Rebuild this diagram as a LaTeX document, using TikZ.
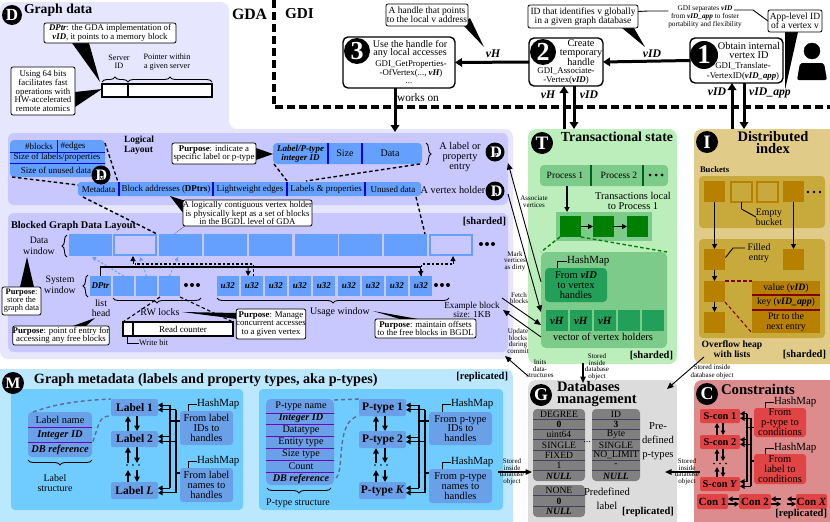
\documentclass[tikz,border=0pt]{standalone}
\usepackage{fontspec}
\setmainfont{Liberation Serif}
\usetikzlibrary{arrows.meta,decorations.pathreplacing,calc}
\newcommand\fz[2]{\fontsize{#1}{#2}\selectfont}
\newcommand\bi[1]{{\bfseries\itshape #1}}
\definecolor{paleL}{HTML}{E6E6FF}\definecolor{lav}{HTML}{C8C8FF}\definecolor{blk}{HTML}{66A0FF}\definecolor{dblue}{HTML}{0000E0}
\definecolor{paleG}{HTML}{BCEEBC}\definecolor{midG}{HTML}{7CCB8A}\definecolor{deepG}{HTML}{008000}\definecolor{hashG}{HTML}{22A05A}\definecolor{lineG}{HTML}{006020}
\definecolor{paleY}{HTML}{E0CC88}\definecolor{midY}{HTML}{C8AA3C}\definecolor{deepY}{HTML}{B88000}\definecolor{dred}{HTML}{800000}
\definecolor{paleB}{HTML}{BBE8FF}\definecolor{midB}{HTML}{70CCFF}\definecolor{boxB}{HTML}{6AA0E8}\definecolor{purp}{HTML}{7000C0}\definecolor{dashB}{HTML}{606A9A}
\definecolor{paleK}{HTML}{DCDCDC}\definecolor{midK}{HTML}{808080}\definecolor{lineK}{HTML}{404060}
\definecolor{paleR}{HTML}{DC8C8C}\definecolor{boxR}{HTML}{E04444}
\tikzset{
 boxn/.style={rectangle,inner sep=0pt,outer sep=0pt,align=center},
 txt/.style={inner sep=0pt,outer sep=0pt,align=center,font=\fz{10}{9.5}},
 small/.style={txt,font=\fz{7}{6.6}},
 tiny/.style={txt,font=\fz{8.2}{8.4}},
 bold/.style={txt,font=\fz{9.5}{10}\bfseries},
 title/.style={txt,font=\fz{14.2}{12}\bfseries},
 tag/.style={txt,anchor=east,font=\fz{10.5}{10}\bfseries},
 callout/.style={fill=white,draw=black,line width=0.8pt,rounded corners=2pt,font=\fz{8.8}{8.6}},
 stepbig/.style={fill=white,draw=black,line width=1.4pt,rounded corners=5pt,font=\fz{9.5}{8.6}},
 big/.style={line width=3pt,-{Triangle[width=8.5pt,length=7pt]}},
 medarr/.style={line width=1pt,-{Triangle[width=5pt,length=5pt]}},
 thinarr/.style={line width=0.9pt,-{Triangle[width=5.5pt,length=6.5pt]}},
 railarr/.style={line width=1.2pt,-{Triangle[width=5pt,length=4.5pt]}},
 varr/.style={line width=1.6pt,-{Triangle[width=5.5pt,length=5.5pt]}},
 dashbig/.style={line width=3.5pt,dash pattern=on 8pt off 4pt},
 dsh/.style={line width=1.4pt,dash pattern=on 3.5pt off 2.5pt},
 brc/.style={decorate,decoration={brace,amplitude=5pt},line width=0.9pt},
 blockb/.style={fill=blk,font=\fz{9}{9}},
 hollow/.style={fill=lav,draw=blk,line width=1.6pt},
}
\newcommand\R[7][]{\pgfmathsetmacro\rcx{(#3+#5)/2}\pgfmathsetmacro\rcy{(#4+#6)/2}\pgfmathsetmacro\rw{#5-#3}\pgfmathsetmacro\rh{#6-#4}\node[boxn,minimum width=\rw pt,minimum height=\rh pt,#1] (#2) at (\rcx,\rcy) {#7};}
\newcommand\T[5][]{\node[txt,#1] (#2) at (#3,#4) {#5};}
\newcommand\cic[6]{\node[circle,fill=black,text=white,inner sep=0pt,outer sep=0pt,minimum size=#4 pt,font=\fz{#6}{#6}\bfseries] (#1) at (#2,#3) {#5};}
\newcommand\cicd[4]{\node[circle,fill=black,text=white,inner sep=0pt,outer sep=0pt,minimum size=19pt,font=\fz{16}{16}\bfseries] (#1) at (#2,#3) {D\kern-8.2pt{\fboxsep=0.2pt\colorbox{white}{\textcolor{black}{\fz{5.5}{5.5}\bfseries #4}}}\kern2pt};}
\newcommand\tdots[3][2]{\fill (#2-6,#3) circle (#1pt) (#2,#3) circle (#1pt) (#2+6,#3) circle (#1pt);}
\newcommand\hmap[5]{\node[txt,anchor=west,font=\fz{10.9}{10}] (#1) at (#4,#5) {HashMap};\draw[line width=0.9pt] ([xshift=#3pt]#2.north) |- (#1.west);}
\newcommand\railset[9]{%
 \foreach \n in {#3,#4,#5}{\draw[railarr] ([yshift=2.3pt]\n.east -| #1) -- ([yshift=2.3pt]\n.east);\draw[railarr] ([yshift=-2.3pt]\n.east -| #2) -- ([yshift=-2.3pt]\n.east);}
 \draw[line width=1.2pt] ([yshift=2.3pt]#3.east -| #1) -- ([yshift=2.3pt]#5.east -| #1);
 \draw[line width=1.2pt] ([yshift=-2.3pt]#3.east -| #2) -- ([yshift=-2.3pt]#5.east -| #2);
 \draw[line width=1.2pt] ([yshift=#8pt]#6.west -| #1) -- ([yshift=#8pt]#6.west);
 \draw[line width=1.2pt] ([yshift=#9pt]#7.west -| #2) -- ([yshift=#9pt]#7.west);}
\newcommand\vpair[5][varr]{\draw[#1] ([xshift=#4pt]#2) -- ([xshift=#4pt]#3);\draw[#1] ([xshift=#5pt]#3) -- ([xshift=#5pt]#2);}
\newcommand\tabl[6]{% name x1 x2 y1 rowh rows(list idx/text)
 \foreach \i/\t in {#6}{\pgfmathsetmacro\ya{#4+\i*#5}\pgfmathsetmacro\yb{#4+(\i+1)*#5}\R[font=\fz{9.6}{9.6}]{#1\i}{#2}{\ya}{#3}{\yb}{\t}}}
\begin{document}
\begin{tikzpicture}[x=1pt,y=-1pt]
\useasboundingbox (0,0) rectangle (830,522);
%% panels
\fill[paleL,rounded corners=8pt] (0,2) -- (229,2) -- (229,129) -- (513,129) -- (513,359) -- (0,359) -- cycle;
\R[fill=lav,rounded corners=6pt]{logical}{8}{133}{508}{205}{}
\R[fill=lav,rounded corners=6pt]{blocked}{8}{213}{508}{352}{}
\R[fill=paleG,rounded corners=8pt]{tspanel}{528}{129}{677}{364}{}
\R[fill=paleY,rounded corners=8pt]{dipanel}{694}{129}{838}{364}{}
\R[fill=paleB,rounded corners=8pt]{mpanel}{-8}{369}{513}{530}{}
\R[fill=midB,rounded corners=4pt]{minnerA}{11}{389}{243}{510}{}
\R[fill=midB,rounded corners=4pt]{minnerB}{259}{389}{503}{510}{}
\R[fill=paleK,rounded corners=8pt]{gpanel}{528}{380}{677}{530}{}
\R[fill=paleR,rounded corners=8pt]{cpanel}{694}{380}{838}{530}{}
%% top-left: graph data
\cic{cD}{12}{15}{20}{D}{17}
\T[title,anchor=west,font=\fz{13.7}{12}\bfseries]{tgd}{24}{10}{Graph data}
\fill (72,43) -- (89,43) -- (100,82) -- cycle;
\fill (75,92) -- (75,107) -- (102,89) -- cycle;
\R[callout]{cdptr}{44}{23}{176}{43}{\bi{DPtr}: the GDA implementation of\\\bi{vID}, it points to a memory block}
\R[callout]{c64}{11}{67}{75}{115}{Using 64 bits\\facilitates fast\\operations with\\HW-accelerated\\remote atomics}
\T[tiny]{tsrv}{119}{62}{Server\\ID}
\T[tiny]{tptr}{167}{62}{Pointer within\\a given server}
\R[fill=white,draw=black,line width=1.2pt]{srv}{102}{84}{128}{97}{}
\R[fill=white,draw=black,line width=1.2pt]{ptr}{128}{84}{212}{97}{}
\draw[brc] (srv.north west)++(0,-2) -- ++(26,0);
\draw[brc] (ptr.north west)++(0,-2) -- ++(84,0);
\T[title,anchor=west,font=\fz{15.8}{12}\bfseries]{tgda}{232}{14}{GDA}
\T[title,anchor=west,font=\fz{15.2}{12}\bfseries]{tgdi}{285}{14}{GDI}
%% dashed border
\coordinate (dtop) at (274,0);\coordinate (dcor) at (274,107);\coordinate (dend) at (830,107);
%% GDI boxes
\fill (462,24) -- (470,18) -- (484,47) -- cycle;
\R[callout,font=\fz{9.5}{9}]{chandle}{386}{4}{468}{26}{A handle that points\\to the local v address}
\fill (622,28) -- (634,28) -- (645,47) -- cycle;
\R[callout,font=\fz{9.5}{9}]{cid}{528}{5}{638}{28}{ID that identifies v globally\\in a given graph database}
\fill (785,32) -- (798,32) -- (785,90) -- cycle;
\R[callout,font=\fz{9.5}{9}]{capp}{768}{10}{822}{32}{App-level ID\\of a vertex v}
\T[txt,font=\fz{7.3}{8}]{tsep}{705}{17}{GDI separates \bi{vID}\\from \bi{vID\_app} to foster\\portability and flexibility}
\draw[line width=0.9pt] (cid.east) ++(0,-5) -- (648,11) -- (tsep.north west |- 0,11);
\draw[line width=0.9pt] (734,10) -- (753,10) -- (capp.west);
\R[stepbig]{box3}{343}{37}{455}{88}{}
\R[stepbig]{box2}{529}{38}{603}{86}{}
\R[stepbig]{box1}{690}{38}{783}{83}{}
\cic{c3}{357}{51}{26}{3}{26}
\cic{c2}{543}{52}{26}{2}{26}
\cic{c1}{704}{55}{28}{1}{27}
\T[font=\fz{10.1}{8.6}]{t3a}{410}{49}{Use the handle for\\any local accesses}
\T[font=\fz{8.8}{9.5}]{t3b}{411}{69}{GDI\_GetProperties-\\-OfVertex(..., \bi{vH})}
\T[font=\fz{8.8}{9}]{t3c}{409}{83}{...}
\T[font=\fz{10.3}{8.6}]{t2a}{581}{53}{Create\\temporary\\handle}
\T[font=\fz{8.8}{9.5}]{t2b}{566}{76}{GDI\_Associate-\\-Vertex(\bi{vID})}
\T[font=\fz{10.3}{9}]{t1a}{749}{50}{Obtain internal\\vertex ID}
\T[font=\fz{8.8}{10}]{t1b}{743}{71}{GDI\_Translate-\\-VertexID(\bi{vID\_app})}
\T[font=\fz{11.7}{11}]{lvh1}{493}{54}{\bi{vH}}
\T[font=\fz{11.7}{11}]{lvid1}{652}{54}{\bi{vID}}
\T[font=\fz{11.7}{11}]{lvh2}{548}{95}{\bi{vH}}
\T[font=\fz{11.7}{11}]{lvid2}{589}{95}{\bi{vID}}
\T[font=\fz{11.7}{11}]{lvid3}{717}{92}{\bi{vID}}
\T[font=\fz{11.7}{11}]{lvapp}{770}{93}{\bi{vID\_app}}
\T[font=\fz{11.3}{10}]{tworks}{418}{98}{works on}
%% person
\fill[draw=black] (812,51) circle (8pt);
\fill[rounded corners=2pt] (797,80) -- (800,63) -- (824,63) -- (827,80) -- cycle;
%% metadata
\R[fill=blk,rounded corners=4pt]{meta}{10}{140}{105}{177}{}
\T[tiny,font=\fz{9}{9}]{tbl}{39}{146.5}{\#blocks}
\T[tiny,font=\fz{9}{9}]{ted}{73}{146.5}{\#edges}
\T[tiny,font=\fz{9}{9}]{tsz}{57}{157.5}{Size of labels/properties}
\T[tiny,font=\fz{9}{9}]{tun}{56}{170}{Size of unused data}
\draw[dblue,line width=1pt] (57,140) -- (57,152) (10,152) -- (105,152) (10,163) -- (105,163);
\T[bold,font=\fz{9.5}{9.5}\bfseries,align=left,anchor=west]{tlog}{124}{145}{Logical\\Layout}
%% dashed metadata links and vertex holder
\R[fill=blk,rounded corners=3pt]{vh}{78}{182}{421}{196}{}
\foreach \x in {119,213,287,365}{\draw[dblue,line width=1.2pt] (\x,182) -- (\x,196);}
\foreach \n/\x/\t in {a/98.5/Metadata,b/166/{Block addresses (\textbf{DPtrs})},c/250/Lightweight edges,d/326/Labels \& properties,e/393/Unused data}{\T[font=\fz{9}{9}]{vt\n}{\x}{189}{\t}}
\coordinate (md1) at (105,143);\coordinate (vh1) at (118,182);\coordinate (md2) at (12,177);\coordinate (vh2) at (78,185);
\draw[dsh] (md1) -- (vh1);\draw[dsh] (md2) -- (vh2);
%% label entry
\fill (256,148) -- (256,160) -- (273,154) -- cycle;
\R[callout]{cpurp1}{172}{143}{256}{164}{\textbf{Purpose}: indicate a\\specific label or p-type}
\R[fill=blk,rounded corners=4pt]{entry}{273}{143}{422}{164}{}
\draw[dblue,line width=1.2pt] (328,143) -- (328,164) (362,143) -- (362,164);
\T[font=\fz{9}{9.5}]{ten1}{300.5}{154}{\bi{Label/P-type}\\\bi{integer ID}}
\T[font=\fz{10}{10}]{ten2}{345}{153.5}{Size}
\T[font=\fz{10}{10}]{ten3}{390}{153.5}{Data}
\coordinate (e1) at (274,164);\coordinate (e2) at (420,164);\coordinate (v1) at (287,181);\coordinate (v2) at (306,181);
\draw[dsh] (e1) -- (v1);\draw[dsh] (e2) -- (v2);
\draw[brc] (426,143) -- (426,165);
\T[font=\fz{10.3}{9.8}]{tlp}{460}{157}{A label or\\property\\entry}
\T[font=\fz{10.3}{10}]{tavh}{453}{190}{A vertex holder}
\cicd{cDP}{495}{152}{P}
\cicd{cDv}{495}{191}{v}
\cicd{cDM}{101}{175}{M}
%% blocked
\T[bold,anchor=west,font=\fz{10.3}{10}\bfseries]{tbgl}{11}{226}{Blocked Graph Data Layout}
\T[tag]{tsh}{506}{222}{[sharded]}
\foreach \i/\x in {0/69,2/159,3/204,4/249,5/295,6/339,7/384}{\pgfmathsetmacro\xb{\x+43}\R[blockb]{db\i}{\x}{234}{\xb}{256}{}}
\R[hollow]{db1}{114}{235}{156}{255}{}
\R[hollow]{db8}{430}{235}{472}{255}{}
\tdots{487}{244}
\T[font=\fz{9.8}{10.5}]{tdw}{39}{246}{Data\\window}
\draw[brc] (67,257) -- (67,235);
\T[font=\fz{9.8}{10.5}]{tsw}{60}{285}{System\\window}
\draw[brc] (88,297) -- (88,275);
\R[blockb]{dp}{90}{276}{111}{296}{\bi{DPtr}}
\foreach \i/\x in {1/113,2/136,3/159}{\pgfmathsetmacro\xb{\x+21}\R[blockb]{rw\i}{\x}{276}{\xb}{296}{}}
\tdots{192}{285}
\foreach \i/\x in {1/217,2/241,3/265,4/289,5/313,6/338,7/362,8/386,9/410}{\pgfmathsetmacro\xb{\x+21.5}\R[blockb]{u\i}{\x}{276}{\xb}{296}{\bi{u32}}}
\tdots{442}{285}
%% light dashed links
\coordinate (bd0) at (92,257);\coordinate (bd1) at (140,257);\coordinate (bd2) at (178,257);
\foreach \a/\b in {rw1/bd0,rw2/bd1,rw3/bd2}{\draw[blk,line width=1.1pt,dash pattern=on 2pt off 2pt,-{Triangle[width=4pt,length=4pt]}] (\a.north) -- (\b);}
\coordinate (railtop) at (0,267);\coordinate (dashtop) at (0,264);
\draw[line width=1.2pt] (dp.north) |- (u9.north |- railtop);
\draw[medarr] (u9.north |- railtop) -- (u9.north);
\draw[medarr] (u2.north |- railtop) ++(-3.5,0) -- (248,276);
\draw[line width=1.2pt,dash pattern=on 2.5pt off 2pt] ([xshift=2pt]u2.north) -- ([xshift=2pt]u2.north |- dashtop) -- (db1.south |- dashtop) ++(-2,0) coordinate (dd1);
\draw[medarr] (dd1) -- (133,256);
\draw[line width=1.2pt,dash pattern=on 2.5pt off 2pt] ([xshift=0pt]u9.north) ++(0.5,0) |- (453,264) coordinate (dd2);
\draw[medarr] (dd2) -- (453,256);
%% callouts in the blocked panel
\fill (20,287) -- (34,287) -- (27,257) -- cycle;
\R[callout,font=\fz{8.4}{8}]{cpur2}{2}{287}{41}{315}{\textbf{Purpose}:\\store the\\graph data}
\T[font=\fz{9.8}{10.5}]{tlh}{101}{308}{list\\head}
\fill (73,326) -- (86,326) -- (95,318) -- cycle;
\R[callout]{cpur3}{14}{326}{108}{345}{\textbf{Purpose}: point of entry for\\accessing any free blocks}
\draw[brc] (201,298) -- (113,298);
\T[font=\fz{10}{10}]{trw}{160}{312}{RW locks}
\draw[brc] (449,298) -- (217,298);
\T[font=\fz{10}{10}]{tuw}{340}{312}{Usage window}
\R[fill=white,draw=black,line width=1.2pt]{wb}{123}{322}{133}{336}{}
\R[fill=white,draw=black,line width=1.2pt,font=\fz{9}{9}]{rc}{133}{322}{233}{336}{Read counter}
\coordinate (rws) at (160,297);\coordinate (rwe) at (180,297);
\draw[dsh,line width=1.1pt] (rws) -- (wb.north west);\draw[dsh,line width=1.1pt] (rwe) -- (rc.north east);
\T[anchor=west,font=\fz{8.2}{8}]{twb}{139}{343}{Write bit}
\draw[line width=0.9pt] (wb.south) ++(-0.5,0) |- (twb.west);
\fill (237,313) -- (237,319) -- (182,312) -- cycle;
\R[callout]{cpur4}{237}{309}{305}{339}{\textbf{Purpose}: Manage\\concurrent accesses\\to a given vertex}
\fill (400,319) -- (418,319) -- (373,311) -- cycle;
\R[callout]{cpur5}{375}{319}{476}{338}{\textbf{Purpose}: maintain offsets\\to the free blocks in BGDL}
\T[font=\fz{9.2}{8.6}]{tex}{472}{310}{Example block\\size: 1KB}
%% vertex holder callout
\fill (170,196) -- (192,203) -- (185,226) -- (174,234) -- (190,222) -- cycle;
\R[callout]{cpur6}{185}{200}{310}{226}{A logically contiguous vertex holder\\is physically kept as a set of blocks\\in the BGDL level of GDA}
\coordinate (vh3) at (83,197);\coordinate (bb1) at (157,234);\coordinate (vh4) at (416,197);\coordinate (bb2) at (425,234);
\draw[dsh] (vh3) -- (bb1);\draw[dsh] (vh4) -- (bb2);
%% transactional state
\cic{cT}{542}{143}{22}{T}{19}
\T[title,font=\fz{13.8}{12}\bfseries]{ttr}{617}{137}{Transactional state}
\R[fill=midG,rounded corners=4pt]{proc}{540}{165}{668}{186}{}
\draw[lineG,line width=1.2pt] (591,165) -- (591,186) (643,165) -- (643,186);
\T[font=\fz{9.6}{9.6}]{tp1}{565}{175}{Process 1}
\T[font=\fz{9.6}{9.6}]{tp2}{619}{175}{Process 2}
\tdots[1.5]{656}{175}
\T[font=\fz{10.4}{9.8}]{ttl}{633}{201}{Transactions local\\to Process 1}
\R[fill=midG]{tbar}{556}{212}{652}{241}{}
\R[fill=deepG]{t1}{560}{216}{581}{237}{}
\R[fill=deepG]{t2}{593}{216}{614}{237}{}
\R[fill=deepG]{t3}{627}{216}{648}{237}{}
\draw[medarr] (t1) -- (t2);\draw[medarr] (t2) -- (t3);
\coordinate (pc) at (567,186);\draw[medarr,line width=1.1pt] (pc) -- (pc |- tbar.north);
\R[fill=midG,rounded corners=5pt]{hmg}{541}{252}{667}{348}{}
\draw[deepG,dsh] (t1.south west) -- (hmg.north west);\draw[deepG,dsh] (t1.south east) -- (hmg.north east);
\R[fill=hashG,rounded corners=4pt,font=\fz{10.5}{9.8}]{hvid}{545}{268}{607}{302}{From \bi{vID}\\to vertex\\handles}
\hmap{hmA}{hvid}{-19}{567}{261}
\foreach \i/\x/\t in {1/546/{\bi{vH}},2/570/{\bi{vH}},3/594/{\bi{vH}},4/618/{},5/642/{}}{\pgfmathsetmacro\xb{\x+21.5}\R[fill=hashG,font=\fz{11}{11}]{vh\i}{\x}{310}{\xb}{331}{\t}}
\T[font=\fz{10.5}{10}]{tvv}{603}{337}{vector of vertex holders}
\T[tag]{tsh2}{673}{356}{[sharded]}
%% distributed index
\cic{cI}{707}{142}{22}{I}{19}
\T[title,font=\fz{14.5}{12}\bfseries]{tdi}{773}{143}{Distributed\\index}
\T[bold,anchor=west,font=\fz{8.6}{9}\bfseries]{tbk}{700}{170}{Buckets}
\R[fill=midY,rounded corners=4pt]{pb}{699}{176}{825}{228}{}
\R[fill=deepY]{b1}{704}{181}{725}{202}{}
\R[fill=midY,draw=deepY,line width=1.6pt]{b2}{731}{182}{752}{202}{}
\R[fill=midY,draw=deepY,line width=1.6pt]{b3}{757}{182}{778}{202}{}
\R[fill=deepY]{b4}{783}{181}{804}{202}{}
\tdots[1.4]{814}{192}
\T[font=\fz{9.8}{9.8}]{temp}{769}{217}{Empty\\bucket}
\draw[line width=0.9pt] (b2.south) -- ++(0,7) -- (temp.west);
\R[fill=midY,rounded corners=4pt]{po}{699}{239}{825}{338}{}
\R[fill=deepY]{e1b}{704}{249}{725}{270}{}
\R[fill=deepY]{e4b}{783}{249}{804}{270}{}
\R[fill=deepY]{e2b}{704}{281}{725}{302}{}
\R[fill=deepY]{e3b}{704}{312}{725}{333}{}
\draw[medarr] (b1) -- (e1b);\draw[medarr] (b4) -- (e4b);
\draw[medarr] (e1b) -- (e2b);\draw[medarr] (e2b) -- (e3b);
\T[font=\fz{9.8}{9.8}]{tfil}{759}{253}{Filled\\entry}
\draw[line width=0.9pt] (e1b.east) ++(0.5,-2) -- (733,248) -- (745,248);
\R[fill=deepY]{kv}{752}{281}{820}{333}{}
\draw[dred,line width=1.4pt] (752,295) -- (820,295) (752,310) -- (820,310);
\T[font=\fz{9.8}{9.8}]{tkv1}{786}{288}{value (\bi{vID})}
\T[font=\fz{9.8}{9.8}]{tkv2}{786}{302}{key (\bi{vID\_app})}
\T[font=\fz{9.8}{10}]{tkv3}{786}{322}{Ptr to the\\next entry}
\draw[dred,dsh,line width=1.1pt] (e2b.north east) -- (kv.north west);
\draw[dred,dsh,line width=1.1pt] (e2b.south east) -- (kv.south west);
\T[bold,font=\fz{9.6}{10.2}\bfseries]{tov}{732}{349}{Overflow heap\\with lists}
\T[tag]{tsh3}{826}{355}{[sharded]}
%% graph metadata
\cic{cM}{13}{383}{22}{M}{16}
\T[title,anchor=west]{tgm}{34}{380}{Graph metadata (labels and property types, aka p-types)}
\T[tag]{trep}{508}{377}{[replicated]}
\R[fill=boxB,rounded corners=4pt]{lstr}{28}{412}{92}{457}{}
\draw[purp,line width=1pt] (28,427) -- (92,427) (28,442) -- (92,442);
\T[font=\fz{10.4}{10}]{ls1}{60}{420}{Label name}
\T[font=\fz{10.4}{10}]{ls2}{60}{435}{\bi{Integer ID}}
\T[font=\fz{10.4}{10}]{ls3}{60}{449.5}{\bi{DB reference}}
\draw[brc] (92,460) -- (28,460);
\T[font=\fz{10}{10.5}]{tlsr}{55}{483}{Label\\structure}
\foreach \n/\a/\b/\t in {lab1/399/416/{Label 1},lab2/431/447/{Label 2},labL/482/499/{Label \textit{L}}}{\R[fill=boxB,rounded corners=2pt,font=\fz{11.5}{11}\bfseries]{\n}{111}{\a}{158}{\b}{\t}}
\draw[dashB,line width=1.4pt,dash pattern=on 4pt off 3pt] (lstr.north west) ++(5,0) .. controls (60,402) and (90,400) .. (lab1.north west);
\draw[dashB,line width=1.4pt,dash pattern=on 4pt off 3pt] (lstr.east) ++(1,7) .. controls (100,420) and (100,416) .. (lab1.south west);
\coordinate (ld1) at (134.5,463);\coordinate (ld2) at (134.5,470);
\vpair{lab2.north}{lab1.south}{-6.5}{2.5}
\vpair{ld1}{lab2.south}{-6.5}{2.5}
\vpair{labL.north}{ld2}{-6.5}{2.5}
\tdots[0.9]{133}{465}
\R[fill=boxB,rounded corners=3pt,font=\fz{10.5}{9.7}]{hl1}{180}{411}{233}{445}{From label\\IDs to\\handles}
\R[fill=boxB,rounded corners=3pt,font=\fz{10.5}{9.7}]{hl2}{180}{468}{233}{502}{From label\\names to\\handles}
\hmap{hmB}{hl1}{-18.5}{197}{404}
\hmap{hmC}{hl2}{-18.5}{197}{461}
\coordinate (ra1) at (170,0);\coordinate (ra2) at (176,0);
\railset{ra1}{ra2}{lab1}{lab2}{labL}{hl1}{hl2}{7}{12}
\R[fill=boxB,rounded corners=5pt]{pstr}{266}{399}{334}{485}{}
\foreach \y in {413,424.5,436.5,448.5,460.5,472}{\draw[purp,line width=1pt] (266,\y) -- (334,\y);}
\foreach \y/\t in {406/{P-type name},418.5/{\bi{Integer ID}},430.5/Datatype,442.5/Entity type,454.5/Size type,466/Count,478.5/{\bi{DB reference}}}{\T[font=\fz{10.2}{10}]{ps\y}{301}{\y}{\t}}
\draw[brc] (331,488) -- (267,488);
\T[font=\fz{10}{10}]{tpsr}{298}{503}{P-type structure}
\foreach \n/\a/\b/\t in {pt1/399/416/{P-type 1},pt2/431/448/{P-type 2},ptK/482/499/{P-type \textit{K}}}{\R[fill=boxB,rounded corners=2pt,font=\fz{11.5}{11}\bfseries]{\n}{359}{\a}{406}{\b}{\t}}
\draw[dashB,line width=1.4pt,dash pattern=on 4pt off 3pt] (pstr.north east) ++(0,1) -- (pt1.north west);
\draw[dashB,line width=1.4pt,dash pattern=on 4pt off 3pt] (pstr.south east) ++(2,-7) .. controls (345,470) and (335,420) .. (pt1.south west);
\coordinate (pd1) at (382.5,463);\coordinate (pd2) at (382.5,470);
\vpair{pt2.north}{pt1.south}{-6.5}{2.5}
\vpair{pd1}{pt2.south}{-6.5}{2.5}
\vpair{ptK.north}{pd2}{-6.5}{2.5}
\tdots[0.9]{381}{465}
\R[fill=boxB,rounded corners=3pt,font=\fz{10.5}{9.7}]{hp1}{429}{412}{492}{445}{From p-type\\IDs to\\handles}
\R[fill=boxB,rounded corners=3pt,font=\fz{10.5}{9.7}]{hp2}{429}{469}{492}{503}{From p-type\\names to\\handles}
\hmap{hmD}{hp1}{-18.5}{451}{404}
\hmap{hmE}{hp2}{-18.5}{451}{462}
\coordinate (rb1) at (419,0);\coordinate (rb2) at (425,0);
\railset{rb1}{rb2}{pt1}{pt2}{ptK}{hp1}{hp2}{7.5}{13}
%% databases management
\cic{cG}{541}{395}{22}{G}{18}
\T[title,anchor=west,align=left,font=\fz{14.5}{12.4}\bfseries]{tdb}{557}{394}{Databases\\management}
\R[fill=midK,rounded corners=4pt]{tA}{533}{409}{585}{481}{}
\R[fill=midK,rounded corners=4pt]{tB}{592}{409}{640}{481}{}
\R[fill=midK,rounded corners=4pt]{tC}{533}{485}{585}{517}{}
\foreach \k in {1,...,6}{\pgfmathsetmacro\yy{409+\k*10.3}\draw[lineK,line width=1pt] (533,\yy) -- (585,\yy) (592,\yy) -- (640,\yy);}
\foreach \k in {1,2}{\pgfmathsetmacro\yy{485+\k*10.67}\draw[lineK,line width=1pt] (533,\yy) -- (585,\yy);}
\tabl{ta}{533}{585}{409}{10.3}{0/DEGREE,1/\textbf{0},2/uint64,3/SINGLE,4/FIXED,5/1,6/\bi{NULL}}
\tabl{tb}{592}{640}{409}{10.3}{0/ID,1/\textbf{3},2/Byte,3/SINGLE,4/NO\_LIMIT,5/-,6/\bi{NULL}}
\tabl{tc}{533}{585}{485}{10.67}{0/NONE,1/\textbf{0},2/\bi{NULL}}
\T[font=\fz{10}{10}]{tddd}{587}{442}{...}
\T[font=\fz{10.6}{13.7}]{tpre}{658}{441}{Pre-\\defined\\p-types}
\T[font=\fz{10.6}{14}]{tpre2}{607}{499}{Predefined\\label}
\T[tag,anchor=center]{trep2}{648}{512}{[replicated]}
%% constraints
\cic{cC}{707}{394}{22}{C}{18}
\T[title,font=\fz{14.8}{12}\bfseries]{tco}{758}{389}{Constraints}
\foreach \n/\a/\b/\t in {s1/409/423/{S-con 1},s2/435/449/{S-con 2},sY/477/491/{S-con \textit{Y}}}{\R[fill=boxR,rounded corners=2pt,font=\fz{10.4}{10}\bfseries]{\n}{700}{\a}{740}{\b}{\t}}
\R[fill=boxR,rounded corners=3pt,font=\fz{10.5}{10}]{hc1}{754}{408}{806}{437}{From\\p-type to\\conditions}
\R[fill=boxR,rounded corners=3pt,font=\fz{10.5}{10}]{hc2}{754}{454}{806}{484}{From\\label to\\conditions}
\hmap{hmF}{hc1}{-15}{774}{402}
\hmap{hmG}{hc2}{-15}{774}{448}
\coordinate (rc1) at (747,0);\coordinate (rc2) at (751,0);
\railset{rc1}{rc2}{s1}{s2}{sY}{hc1}{hc2}{-5}{8}
\coordinate (sd1) at (720,461);\coordinate (sd2) at (720,467);
\vpair[varr,line width=1.2pt,-{Triangle[width=4.5pt,length=4.5pt]}]{s2.north}{s1.south}{-3}{3}
\vpair[varr,line width=1.2pt,-{Triangle[width=4.5pt,length=4.5pt]}]{sd1}{s2.south}{-3}{3}
\vpair[varr,line width=1.2pt,-{Triangle[width=4.5pt,length=4.5pt]}]{sY.north}{sd2}{-3}{3}
\tdots[0.8]{720}{463.5}
\R[fill=boxR,rounded corners=2pt,font=\fz{11}{11}\bfseries]{con1}{697}{494}{728}{509}{Con 1}
\R[fill=boxR,rounded corners=2pt,font=\fz{11}{11}\bfseries]{con2}{739}{494}{771}{509}{Con 2}
\R[fill=boxR,rounded corners=2pt,font=\fz{11}{11}\bfseries]{conX}{796}{494}{827}{509}{Con \textit{X}}
\draw[railarr] ([yshift=2.5pt]con2.west) -- ([yshift=2.5pt]con1.east);
\draw[railarr] ([yshift=-2.5pt]con1.east) -- ([yshift=-2.5pt]con2.west);
\coordinate (cdd1) at (781,501.5);\coordinate (cdd2) at (787,501.5);
\draw[railarr] ([yshift=2.5pt]cdd1) -- ([yshift=2.5pt]con2.east);
\draw[railarr] ([yshift=-2.5pt]con2.east) -- ([yshift=-2.5pt]cdd1);
\draw[railarr] ([yshift=2.5pt]conX.west) -- ([yshift=2.5pt]cdd2);
\draw[railarr] ([yshift=-2.5pt]cdd2) -- ([yshift=-2.5pt]conX.west);
\T[tag]{trep3}{827}{514}{[replicated]}
%% main connectors
\draw[dashbig] (dtop) -- (dcor) -- (dend);
\draw[big] (box2.west) -- (box3.east);
\draw[big] (box1.west) -- (box2.east);
\coordinate (w1) at (395,88);\coordinate (w2) at (395,132);
\draw[big] (w1) -- (w2);
\coordinate (ux) at (564,0);\coordinate (dx) at (574,0);
\draw[big] (ux |- tspanel.north) -- (ux |- box2.south);
\draw[big] (dx |- box2.south) -- (dx |- tspanel.north);
\coordinate (ux2) at (732,0);\coordinate (dx2) at (744,0);
\draw[big] (ux2 |- dipanel.north) -- (ux2 |- box1.south);
\draw[big] (dx2 |- box1.south) -- (dx2 |- dipanel.north);
%% panel-to-panel thin arrows
\coordinate (a1s) at (541,282);\coordinate (a1e) at (508,163);\draw[thinarr] (a1s) -- (a1e);
\coordinate (a2s) at (508,194);\coordinate (a2e) at (541,312);\draw[thinarr] (a2s) -- (a2e);
\coordinate (a3s) at (502,298);\coordinate (a3e) at (541,325);\draw[thinarr] (a3s) -- (a3e);
\coordinate (a4s) at (541,337);\coordinate (a4e) at (503,310);\draw[thinarr] (a4s) -- (a4e);
\coordinate (a5s) at (528,376);\coordinate (a5e) at (505,356);\draw[thinarr] (a5s) -- (a5e);
\coordinate (a6s) at (583,363);\coordinate (a6e) at (583,383);\draw[thinarr,line width=1.4pt] (a6s) -- (a6e);
\coordinate (a7s) at (704,357);\coordinate (a7e) at (667,389);\draw[thinarr] (a7s) -- (a7e);
\coordinate (a8s) at (498,472);\coordinate (a8e) at (532,472);\draw[thinarr,line width=1.4pt] (a8s) -- (a8e);
\coordinate (a9s) at (700,472);\coordinate (a9e) at (665,472);\draw[thinarr,line width=1.4pt] (a9s) -- (a9e);
\T[small]{sa}{534}{202}{Associate\\vertices}
\T[small]{sb}{515}{261}{Mark\\vertices\\as dirty}
\T[small]{sc}{519}{298}{Fetch\\blocks}
\T[small]{sd}{518}{341}{Update\\blocks\\during\\commit}
\T[small]{se}{540}{369}{Inits\\data-\\structures}
\T[small]{sf}{597}{367}{Stored\\inside\\database\\object}
\T[small,font=\fz{7}{8}]{sg}{712}{372}{Stored inside\\database object}
\T[small]{sh}{512}{472}{Stored\\inside\\database\\object}
\T[small]{si}{687}{472}{Stored\\inside\\database\\object}
\end{tikzpicture}
\end{document}
